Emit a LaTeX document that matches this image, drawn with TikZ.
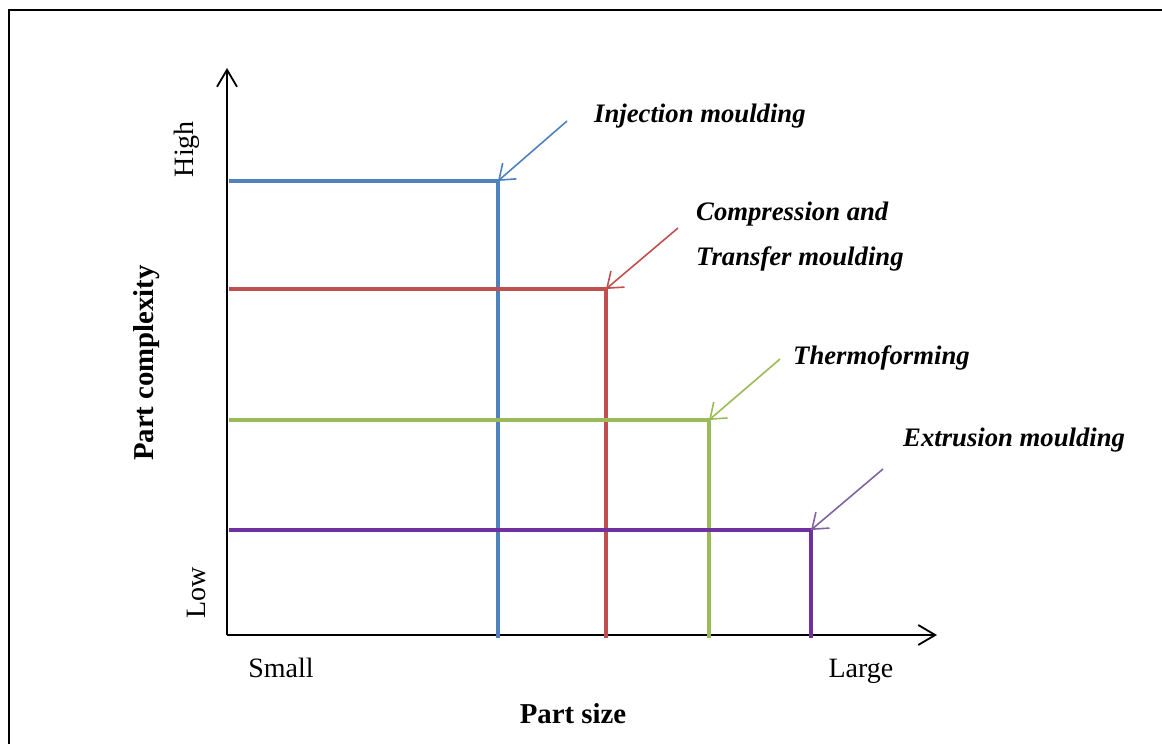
\documentclass[tikz,border=0pt]{standalone}
\usepackage{fontspec}
\setmainfont{Liberation Serif}
\usetikzlibrary{arrows.meta}
\definecolor{cblue}{HTML}{4F81BD}
\definecolor{cred}{HTML}{C0504D}
\definecolor{cgreen}{HTML}{9BBB59}
\definecolor{cpurple}{HTML}{7030A0}
\definecolor{cpurplelt}{HTML}{8064A2}
\tikzset{
  axis/.style={line width=1.8pt, -{Straight Barb[length=17pt,width=20pt,line width=1.8pt]}},
  level/.style={line width=4.4pt, miter limit=10},
  pointer/.style={line width=1.6pt, -{Straight Barb[length=14pt,width=21pt,line width=1.6pt]}},
  lbl/.style={font=\fontsize{26.7}{30}\selectfont\bfseries\itshape, anchor=base west, inner sep=0pt},
  tick/.style={font=\fontsize{28}{30}\selectfont, inner sep=0pt},
  ttl/.style={font=\fontsize{28.8}{30}\selectfont\bfseries, inner sep=0pt},
}
\begin{document}
\begin{tikzpicture}[x=1pt,y=-1pt]
\useasboundingbox (0,0) rectangle (1162,744);
% frame
\draw[line width=2pt] (9,744) -- (9,10) -- (1162,10);
% axes
\coordinate (O) at (227,635);
\coordinate (ytip) at (227,68);
\coordinate (xtip) at (937,635);
\draw[axis] (O) -- (ytip);
\draw[axis] (O) -- (xtip);
% corners
\coordinate (cb) at (498,181);
\coordinate (cr) at (606,289);
\coordinate (cg) at (709,420);
\coordinate (cp) at (811,530);
% level lines
\draw[level, cblue]   (229,181) -- (cb) -- (498,638);
\draw[level, cred]    (229,289) -- (cr) -- (606,638);
\draw[level, cgreen]  (229,420) -- (cg) -- (709,638);
\draw[level, cpurple] (229,530) -- (cp) -- (811,638);
% pointer starts
\coordinate (sb) at (567,121);
\coordinate (sr) at (678,228);
\coordinate (sg) at (780,359);
\coordinate (sp) at (883,469);
\draw[pointer, cblue]     (sb) -- (cb);
\draw[pointer, cred]      (sr) -- (cr);
\draw[pointer, cgreen]    (sg) -- (cg);
\draw[pointer, cpurplelt] (sp) -- (cp);
% labels
\node[lbl] (tinj) at (594,122) {Injection moulding};
\node[lbl] (tcomp) at (696,220) {Compression and};
\node[lbl] (ttrans) at (696,265) {Transfer moulding};
\node[lbl] (ttherm) at (793,364) {Thermoforming};
\node[lbl] (text) at (903,446) {Extrusion moulding};
% axis texts
\node[tick, rotate=90, anchor=base] (thigh) at (193,149) {High};
\node[tick, rotate=90, anchor=base] (tlow) at (205,593) {Low};
\node[tick, anchor=base] (tsmall) at (281,677) {Small};
\node[tick, anchor=base] (tlarge) at (861,677) {Large};
\node[ttl, anchor=base] (tsize) at (573,723) {Part size};
\node[ttl, rotate=90, anchor=base] (tcx) at (153,363) {Part complexity};
\end{tikzpicture}
\end{document}
